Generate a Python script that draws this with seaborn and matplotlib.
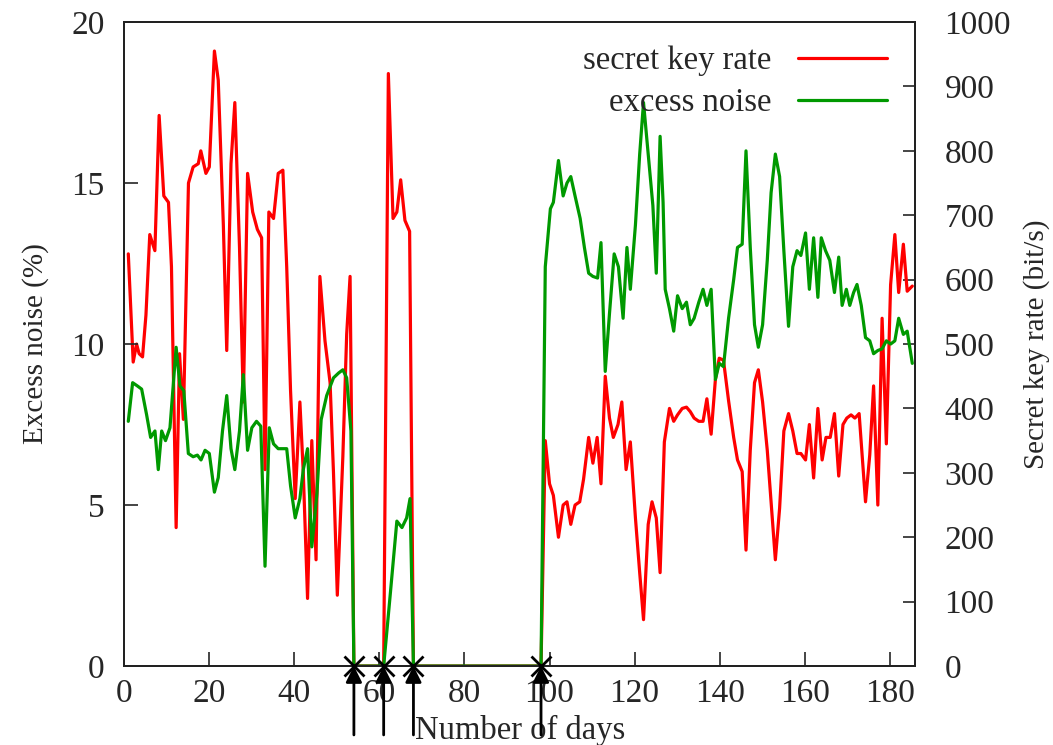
import matplotlib
matplotlib.use("Agg")
import matplotlib.pyplot as plt
import seaborn as sns
import pandas as pd

# secret key rate (bit/s)
key_day = [0.95, 2.1, 2.9, 3.5, 4.3, 5.1, 6.0, 7.2, 8.2, 9.3, 10.4, 11.1, 12.2, 13.0, 13.9,
           15.1, 16.2, 17.4, 18.0, 19.2, 20.0, 21.2, 22.1, 23.3, 24.1, 25.1, 26.0, 27.1, 28.0,
           29.0, 30.2, 31.3, 32.3, 33.1, 34.0, 35.1, 36.2, 37.3, 38.2, 39.1, 40.2, 41.3, 42.1,
           43.1, 44.1, 45.1, 46.0, 47.2, 48.4, 49.2, 50.1, 51.4, 52.3, 53.1, 54.0,
           61.0, 62.1, 63.2, 64.1, 65.0, 66.0, 67.1, 68.0, 98.0,
           99.0, 100.0, 100.9, 102.1, 103.2, 104.1, 105.0, 106.0, 107.1, 108.0, 109.2, 110.2,
           111.2, 112.1, 113.1, 114.1, 115.0, 116.1, 117.0, 118.0, 119.0, 120.2, 121.2, 122.1,
           123.2, 124.1, 125.1, 126.0, 127.0, 128.2, 129.2, 130.1, 131.2, 132.2, 133.1, 134.0,
           135.1, 136.1, 137.0, 138.0, 139.0, 139.9, 140.9, 142.1, 143.3, 144.2, 145.3, 146.2,
           147.2, 148.2, 149.1, 150.1, 151.2, 152.1, 153.1, 154.1, 155.1, 156.2, 157.2, 158.2,
           159.1, 160.2, 161.1, 162.1, 163.1, 164.1, 165.0, 166.0, 167.0, 168.0, 169.0, 169.9,
           170.9, 171.8, 172.8, 174.3, 175.3, 176.2, 177.2, 178.2, 179.2, 180.2, 181.2, 182.1,
           183.2, 184.1, 185.3]
key_rate = [640, 472, 500, 485, 480, 545, 670, 645, 855, 730, 720, 620, 215, 485, 383,
            750, 775, 780, 800, 765, 775, 955, 910, 685, 490, 780, 875, 650, 410,
            765, 705, 678, 665, 305, 705, 695, 765, 770, 620, 428, 260, 410, 300,
            105, 350, 165, 605, 505, 440, 300, 110, 325, 515, 605, 0,
            0, 920, 695, 705, 755, 692, 675, 0, 0,
            350, 283, 265, 200, 250, 255, 220, 250, 255, 290, 355, 315,
            355, 283, 450, 385, 355, 375, 410, 305, 348, 230, 145, 72,
            220, 255, 230, 145, 348, 400, 380, 390, 400, 402, 395, 385,
            380, 380, 415, 360, 445, 478, 475, 412, 355, 320, 302, 180,
            335, 440, 460, 410, 335, 255, 165, 245, 365, 392, 365, 330,
            330, 320, 375, 292, 400, 320, 355, 355, 392, 295, 375, 385,
            390, 385, 392, 255, 328, 435, 250, 540, 345, 592, 670, 580,
            655, 582, 590]

# excess noise (%)
noise_day = [0.95, 1.97, 3.07, 4.09, 5.26, 6.2, 7.22, 8.0, 8.8, 9.7, 10.75, 12.2, 13.1, 14.0,
             15.07, 16.2, 17.2, 18.05, 19.0, 20.0, 21.2, 22.1, 23.1, 24.1, 25.1, 26.0, 27.1,
             28.0, 29.0, 30.0, 31.1, 32.1, 33.1, 34.1, 35.1, 36.2, 37.3, 38.2, 39.1, 40.2,
             41.3, 42.1, 43.1, 44.1, 45.3, 46.3, 47.6, 49.2, 50.4, 51.4, 52.3, 53.3, 54.0,
             61.0, 62.6, 64.1, 65.3, 66.4, 67.2, 68.0, 98.0,
             99.0, 100.2, 100.9, 102.1, 103.2, 104.1, 105.0, 106.0, 107.2, 108.2, 109.2, 110.2,
             111.3, 112.1, 113.1, 114.1, 115.2, 116.2, 117.3, 118.2, 119.0, 120.2, 121.2, 122.1,
             123.2, 124.3, 125.1, 126.0, 126.7, 127.2, 128.2, 129.2, 130.1, 131.2, 132.2, 133.1,
             134.0, 135.1, 136.1, 137.0, 138.0, 139.0, 139.9, 140.9, 142.1, 143.3, 144.2, 145.3,
             146.2, 147.2, 148.2, 149.1, 150.1, 151.2, 152.1, 153.1, 154.1, 155.1, 156.2, 157.2,
             158.2, 159.1, 160.2, 161.1, 162.1, 163.1, 163.9, 164.9, 165.9, 167.0, 168.0, 168.8,
             169.8, 170.6, 171.5, 172.3, 173.3, 174.3, 175.3, 176.2, 177.2, 178.2, 179.2, 180.2,
             181.2, 182.1, 183.2, 184.1, 185.3]
noise_pct = [7.6, 8.8, 8.7, 8.6, 7.8, 7.1, 7.3, 6.1, 7.3, 7.0, 7.4, 9.9, 8.7, 8.55,
             6.6, 6.5, 6.55, 6.4, 6.7, 6.6, 5.4, 5.85, 7.3, 8.4, 6.75, 6.1, 7.3,
             9.05, 6.7, 7.4, 7.6, 7.45, 3.1, 7.4, 6.9, 6.75, 6.75, 6.75, 5.6, 4.6,
             5.2, 6.1, 6.75, 3.7, 5.35, 7.65, 8.4, 8.95, 9.1, 9.2, 8.95, 7.3, 0,
             0, 2.3, 4.5, 4.3, 4.6, 5.2, 0, 0,
             12.4, 14.2, 14.4, 15.7, 14.6, 15.0, 15.2, 14.6, 13.9, 13.0, 12.2, 12.1,
             12.05, 13.15, 9.15, 10.95, 12.8, 12.4, 10.8, 13.0, 11.7, 13.7, 15.9, 17.5,
             15.9, 14.3, 12.2, 16.45, 14.4, 11.7, 11.1, 10.4, 11.5, 11.1, 11.3, 10.6,
             10.8, 11.3, 11.7, 11.2, 11.7, 8.9, 9.4, 9.3, 10.8, 12.0, 13.0, 13.1,
             16.0, 13.0, 10.6, 9.9, 10.6, 12.6, 14.7, 15.9, 15.2, 12.9, 10.55, 12.4,
             12.9, 12.75, 13.45, 11.7, 13.3, 11.45, 13.3, 12.9, 12.6, 11.6, 12.7, 11.2,
             11.7, 11.2, 11.6, 11.85, 11.2, 10.2, 10.1, 9.7, 9.8, 9.85, 10.1, 10.0,
             10.1, 10.8, 10.3, 10.4, 9.4]

# days with interruptions (arrows)
marker_days = [54, 61, 68, 98]

df_key = pd.DataFrame({"day": key_day, "rate": key_rate})
df_noise = pd.DataFrame({"day": noise_day, "noise": noise_pct})

sns.set_style("ticks")
plt.rcParams["font.family"] = ["Liberation Serif", "DejaVu Serif"]

fig = plt.figure(figsize=(10.53, 7.45), dpi=100)
ax = fig.add_axes([0.118, 0.106, 0.7512, 0.8644])
ax2 = ax.twinx()

# red below, green on top (like the gnuplot original)
sns.lineplot(data=df_key, x="day", y="rate", ax=ax2, color="#ff0000", lw=2.3,
             sort=False, estimator=None, legend=False)
sns.lineplot(data=df_noise, x="day", y="noise", ax=ax, color="#009900", lw=2.3,
             sort=False, estimator=None, legend=False)
ax.set_zorder(ax2.get_zorder() + 1)
ax.patch.set_visible(False)

ax.set_xlim(0, 186)
ax.set_ylim(0, 20)
ax2.set_ylim(0, 1000)
ax.set_xticks(range(0, 181, 20))
ax.set_yticks(range(0, 21, 5))
ax2.set_yticks(range(0, 1001, 100))

ax.tick_params(axis="x", direction="in", length=10, width=1.2, labelsize=24, pad=9)
ax.tick_params(axis="y", direction="in", length=10, width=1.2, labelsize=24, pad=14)
ax2.tick_params(axis="y", direction="in", length=9, width=1.2, labelsize=24, pad=21)
for a in (ax, ax2):
    for s in a.spines.values():
        s.set_color("#222222")
        s.set_linewidth(1.4)

ax.set_xlabel("Number of days", fontsize=23.5, labelpad=4)
ax.set_ylabel("Excess noise (%)", fontsize=21, labelpad=16)
ax2.set_ylabel("Secret key rate (bit/s)", fontsize=21, labelpad=9)

# arrows and markers at the interruptions
for d in marker_days:
    ax.annotate("", xy=(d, 0), xycoords="data", xytext=(d, -0.107),
                textcoords=("data", "axes fraction"), annotation_clip=False,
                arrowprops=dict(arrowstyle="-|>", color="black", lw=2,
                                mutation_scale=24, shrinkA=0, shrinkB=0), zorder=6)
ax.plot(marker_days, [0] * len(marker_days), "x", color="black", ms=14, mew=2,
        clip_on=False, zorder=7)

handles = [ax2.get_lines()[0], ax.get_lines()[0]]
ax.legend(handles, ["secret key rate", "excess noise"], loc="upper right",
          bbox_to_anchor=(0.9646, 0.963), frameon=False, markerfirst=False,
          fontsize=23.5, borderpad=0, borderaxespad=0, handlelength=2.75,
          handletextpad=0.8, labelspacing=0.35)

fig.savefig("out.png", dpi=100)
